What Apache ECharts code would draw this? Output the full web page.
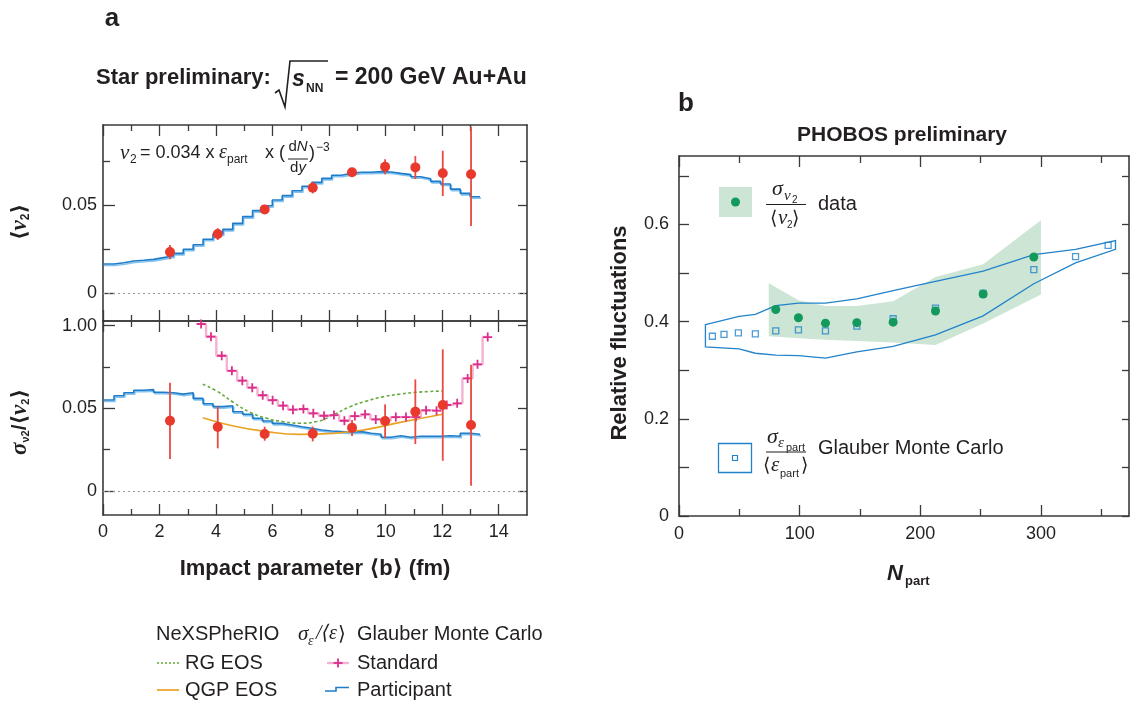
<!DOCTYPE html>
<html>
<head>
<meta charset="utf-8"/>
<title>v2 fluctuations</title>
<style>html,body{margin:0;padding:0;background:#fff;}#chart{width:1134px;height:702px;}</style>
</head>
<body>
<div id="chart"></div>
<script src="https://cdn.jsdelivr.net/npm/echarts@6/dist/echarts.min.js"></script>
<script>
// ---------- panel a : STAR, versus impact parameter b (fm)
var bPoints = [2.37, 4.06, 5.72, 7.42, 8.81, 9.98, 11.05, 12.02, 13.02];
var v2Mean = [0.0234, 0.0336, 0.0475, 0.0598, 0.0685, 0.0717, 0.0713, 0.068, 0.0674];
var v2Lo   = [0.0193, 0.0302, 0.0462, 0.0566, 0.067, 0.0674, 0.0647, 0.0551, 0.0381];
var v2Hi   = [0.0273, 0.0368, 0.0487, 0.0632, 0.0698, 0.0759, 0.0777, 0.0807, 0.0943];
var fluct   = [0.0425, 0.0387, 0.0345, 0.0347, 0.0383, 0.0423, 0.048, 0.052, 0.0399];
var fluctLo = [0.0193, 0.0258, 0.0304, 0.0300, 0.0333, 0.0319, 0.0284, 0.0183, 0.0032];
var fluctHi = [0.0655, 0.051, 0.0389, 0.039, 0.0429, 0.0524, 0.0675, 0.0857, 0.0762];

// Glauber "participant" histogram (bin edges, then one value per bin)
var binEdges = [0, 0.39, 0.74, 1.09, 1.44, 1.79, 2.14, 2.49, 2.84, 3.19, 3.54, 3.89, 4.24, 4.59, 4.94, 5.29,
  5.64, 5.99, 6.34, 6.69, 7.04, 7.39, 7.74, 8.09, 8.44, 8.79, 9.14, 9.49, 9.84, 10.19, 10.54, 10.89,
  11.24, 11.59, 11.94, 12.29, 12.64, 12.99, 13.34];
var partV2 = [0.0166, 0.0173, 0.0183, 0.0187, 0.0192, 0.0202, 0.0211, 0.0226, 0.0249, 0.0275,
  0.0306, 0.0336, 0.0362, 0.0396, 0.0434, 0.0468, 0.0496, 0.0528, 0.0553, 0.0581,
  0.0606, 0.0628, 0.0651, 0.0668, 0.0679, 0.0685, 0.0685, 0.0689, 0.0687, 0.0679,
  0.0672, 0.066, 0.0649, 0.0634, 0.0619, 0.059, 0.0566, 0.0547];
var partFluct = [0.055, 0.0576, 0.0594, 0.0609, 0.0613, 0.0597, 0.0594, 0.0586, 0.0594, 0.056,
  0.0528, 0.051, 0.0516, 0.0479, 0.0464, 0.044, 0.0423, 0.0409, 0.0399, 0.0389,
  0.038, 0.0369, 0.0363, 0.0359, 0.0355, 0.0359, 0.0349, 0.0343, 0.0325, 0.0334,
  0.0325, 0.0331, 0.0331, 0.0331, 0.0334, 0.0331, 0.0349, 0.0343];

// Glauber "standard"
var stdB = [3.47, 3.82, 4.20, 4.56, 4.93, 5.28, 5.65, 6.00, 6.37, 6.72, 7.09, 7.44, 7.82, 8.17, 8.54,
  8.91, 9.27, 9.65, 10.00, 10.36, 10.72, 11.07, 11.43, 11.80, 12.16, 12.53, 12.90, 13.25, 13.61];
var stdFluct = [0.101, 0.0933, 0.0818, 0.0727, 0.0667, 0.0625, 0.0579, 0.0549, 0.0516, 0.0492, 0.0496,
  0.047, 0.0455, 0.0459, 0.0425, 0.0453, 0.0464, 0.0433, 0.0427, 0.0447, 0.0447, 0.0447,
  0.0488, 0.0486, 0.052, 0.053, 0.0681, 0.0766, 0.0931];

// NeXSPheRIO
var rgB = [3.53, 4.02, 4.61, 5.20, 5.79, 6.38, 6.97, 7.56, 8.15, 8.74, 9.33, 9.92, 10.51, 11.10, 12.02];
var rgFluct = [0.0645, 0.0605, 0.0536, 0.0476, 0.044, 0.0419, 0.041, 0.042, 0.046, 0.051, 0.0544, 0.057, 0.0586, 0.0597, 0.0605];
var qgpB = [3.53, 4.61, 5.79, 6.97, 8.15, 9.33, 10.51, 12.02];
var qgpFluct = [0.0443, 0.0393, 0.0359, 0.0343, 0.0349, 0.0373, 0.0415, 0.0464];

// ---------- panel b : PHOBOS, versus Npart
var nPart = [80.2, 99, 121.4, 147.4, 177.5, 212.6, 252.1, 294.1];
var phobos = [0.425, 0.408, 0.397, 0.398, 0.399, 0.422, 0.457, 0.533];
var bandN = [74.4, 99, 121.4, 147.4, 177.5, 212.6, 252.1, 300];
var bandLo = [0.370, 0.366, 0.363, 0.360, 0.357, 0.352, 0.396, 0.456];
var bandHi = [0.479, 0.444, 0.432, 0.432, 0.442, 0.492, 0.518, 0.609];
var glauberN = [27.7, 37.3, 49.2, 63.3, 80.2, 99, 121.4, 147.4, 177.5, 212.6, 252.1, 294.1, 328.7, 355.7];
var glauber = [0.370, 0.374, 0.377, 0.375, 0.381, 0.383, 0.381, 0.391, 0.406, 0.428, 0.458, 0.507, 0.534, 0.557];
var outlineN = [21.9, 49.8, 63.3, 80.2, 99, 121.4, 147.4, 177.5, 212.6, 252.1, 294.1, 328.7, 361.8];
var outlineLo = [0.348, 0.344, 0.335, 0.331, 0.330, 0.325, 0.338, 0.349, 0.373, 0.412, 0.478, 0.521, 0.549];
var outlineHi = [0.394, 0.411, 0.415, 0.433, 0.438, 0.438, 0.447, 0.464, 0.483, 0.504, 0.538, 0.549, 0.567];

// ---------- ticks
var bMajor = [0, 2, 4, 6, 8, 10, 12, 14];
var bMinor = [1, 3, 5, 7, 9, 11, 13];
var v2Major = [0, 0.05];
var v2Text = ['0', '0.05'];
var fluctMajor = [0, 0.05, 0.1];
var fluctText = ['0', '0.05', '1.00'];
var aYMinor = [0.025, 0.075];
var nMajor = [0, 100, 200, 300];
var nMinor = [50, 150, 250, 350];
var relMajor = [0, 0.2, 0.4, 0.6];
var relMinor = [0.1, 0.3, 0.5, 0.7];

var FONT = '"Liberation Sans", "DejaVu Sans", Arial, sans-serif';
var SERIF = '"Liberation Serif", "DejaVu Serif", serif';
var INK = '#231f20';
var FRAME = '#3a3a3a';
var BLUE = '#1e7cc8';
var RED = '#e8392c';

var xAxes = [], yAxes = [];

// one side of a box: a major axis (line, long ticks, maybe labels) and a minor one (short ticks only)
function side(list, grid, pos, min, max, major, minor, majLen, minLen, labelVals, fmt, margin) {
	var idx = list.length;
	list.push({
		gridIndex: grid, type: 'value', position: pos, min: min, max: max,
		axisLine: {show: true, onZero: false, lineStyle: {color: FRAME, width: 1.6}},
		axisTick: {show: true, inside: true, length: majLen, customValues: major, lineStyle: {color: FRAME, width: 1.3}},
		axisLabel: labelVals ? {show: true, customValues: labelVals, formatter: fmt, margin: margin,
			fontSize: 18, color: INK, fontFamily: FONT} : {show: false},
		splitLine: {show: false}
	});
	list.push({
		gridIndex: grid, type: 'value', position: pos, min: min, max: max,
		axisLine: {show: false, onZero: false},
		axisTick: {show: true, inside: true, length: minLen, customValues: minor, lineStyle: {color: FRAME, width: 1.3}},
		axisLabel: {show: false},
		splitLine: {show: false}
	});
	return idx;
}

function lookup(vals, texts) {
	return function (v) {
		for (var i = 0; i < vals.length; i++) {
			if (Math.abs(vals[i] - v) < 1e-9) return texts[i];
		}
		return '';
	};
}

// grid 0: <v2>, grid 1: sigma/<v2>, grid 2: PHOBOS
var x0 = side(xAxes, 0, 'bottom', 0, 15, bMajor, bMinor, 11, 6);
side(xAxes, 0, 'top', 0, 15, bMajor, bMinor, 11, 6);
var y0 = side(yAxes, 0, 'left', -0.0157, 0.0953, v2Major, aYMinor, 12, 7, v2Major, lookup(v2Major, v2Text), 6);
side(yAxes, 0, 'right', -0.0157, 0.0953, v2Major, aYMinor, 9, 7);

var x1 = side(xAxes, 1, 'bottom', 0, 15, bMajor, bMinor, 11, 6, bMajor, function (v) { return String(v); }, 8);
side(xAxes, 1, 'top', 0, 15, bMajor, bMinor, 11, 6);
var y1 = side(yAxes, 1, 'left', -0.0145, 0.1028, fluctMajor, aYMinor, 12, 7, fluctMajor, lookup(fluctMajor, fluctText), 6);
side(yAxes, 1, 'right', -0.0145, 0.1028, fluctMajor, aYMinor, 9, 7);

var x2 = side(xAxes, 2, 'bottom', 0, 373, nMajor, nMinor, 11, 7, nMajor, function (v) { return String(v); }, 9);
side(xAxes, 2, 'top', 0, 373, nMajor, nMinor, 11, 7);
var y2 = side(yAxes, 2, 'left', 0, 0.741, relMajor, relMinor, 10, 10, relMajor,
	function (v) { return v === 0 ? '0' : v.toFixed(1); }, 10);
side(yAxes, 2, 'right', 0, 0.741, relMajor, relMinor, 7, 7);

function stepData(edges, vals) {
	var d = [];
	for (var i = 0; i < vals.length; i++) d.push([edges[i], vals[i]]);
	d.push([edges[vals.length], vals[vals.length - 1]]);
	return d;
}
function pairs(xs, ys) {
	return xs.map(function (x, i) { return [x, ys[i]]; });
}
function triples(xs, lo, hi) {
	return xs.map(function (x, i) { return [x, lo[i], hi[i]]; });
}

function errRender(params, api) {
	var a = api.coord([api.value(0), api.value(1)]);
	var b = api.coord([api.value(0), api.value(2)]);
	return {type: 'line', shape: {x1: a[0], y1: a[1], x2: b[0], y2: b[1]},
		style: {stroke: '#e9493e', lineWidth: 1.8}};
}

// closed polygon from an upper and a lower edge
function bandRender(xs, lo, hi, style) {
	return function (params, api) {
		if (params.dataIndex !== 0) return null;
		var pts = [];
		for (var i = 0; i < xs.length; i++) pts.push(api.coord([xs[i], hi[i]]));
		for (var j = xs.length - 1; j >= 0; j--) pts.push(api.coord([xs[j], lo[j]]));
		return {type: 'polygon', shape: {points: pts}, style: style};
	};
}

var zeroLine = {
	silent: true, symbol: 'none', label: {show: false},
	lineStyle: {type: [2, 3], color: '#9a9a9a', width: 1},
	data: [{yAxis: 0}]
};
var blueLine = {color: BLUE, width: 1.6, shadowColor: 'rgba(90,175,235,0.75)', shadowOffsetY: 1.5, shadowOffsetX: 1, shadowBlur: 0};
var plus = 'path://M-1,-5 L1,-5 L1,-1 L5,-1 L5,1 L1,1 L1,5 L-1,5 L-1,1 L-5,1 L-5,-1 L-1,-1 Z';

var series = [
	// <v2>
	{type: 'line', xAxisIndex: x0, yAxisIndex: y0, step: 'end', showSymbol: false, silent: true,
		data: stepData(binEdges, partV2), lineStyle: blueLine, markLine: zeroLine},
	{type: 'custom', xAxisIndex: x0, yAxisIndex: y0, renderItem: errRender,
		encode: {x: 0, y: [1, 2]}, data: triples(bPoints, v2Lo, v2Hi), z: 4},
	{type: 'scatter', xAxisIndex: x0, yAxisIndex: y0, symbolSize: 10, data: pairs(bPoints, v2Mean),
		itemStyle: {color: RED, opacity: 1}, z: 5},

	// sigma / <v2>
	{type: 'line', xAxisIndex: x1, yAxisIndex: y1, step: 'end', showSymbol: false, silent: true,
		data: stepData(binEdges, partFluct), lineStyle: blueLine, markLine: zeroLine},
	{type: 'line', xAxisIndex: x1, yAxisIndex: y1, smooth: true, showSymbol: false, silent: true,
		data: pairs(rgB, rgFluct), lineStyle: {color: '#62a83a', width: 1.6, type: [3, 2.5]}},
	{type: 'line', xAxisIndex: x1, yAxisIndex: y1, smooth: true, showSymbol: false, silent: true,
		data: pairs(qgpB, qgpFluct), lineStyle: {color: '#eba224', width: 1.7}},
	{type: 'line', xAxisIndex: x1, yAxisIndex: y1, step: 'middle', silent: true,
		symbol: plus, symbolSize: 9, showAllSymbol: true, data: pairs(stdB, stdFluct),
		lineStyle: {color: '#f5b1d2', width: 2.4}, itemStyle: {color: '#dc2e8b'}},
	{type: 'custom', xAxisIndex: x1, yAxisIndex: y1, renderItem: errRender,
		encode: {x: 0, y: [1, 2]}, data: triples(bPoints, fluctLo, fluctHi), z: 4},
	{type: 'scatter', xAxisIndex: x1, yAxisIndex: y1, symbolSize: 10, data: pairs(bPoints, fluct),
		itemStyle: {color: RED, opacity: 1}, z: 5},

	// PHOBOS
	{type: 'custom', xAxisIndex: x2, yAxisIndex: y2, encode: {x: 0, y: [1, 2]},
		renderItem: bandRender(bandN, bandLo, bandHi, {fill: '#cce5d4', stroke: null}),
		data: triples(bandN, bandLo, bandHi), z: 1},
	{type: 'custom', xAxisIndex: x2, yAxisIndex: y2, encode: {x: 0, y: [1, 2]},
		renderItem: bandRender(outlineN, outlineLo, outlineHi, {fill: null, stroke: '#2282ca', lineWidth: 1.3}),
		data: triples(outlineN, outlineLo, outlineHi), z: 2},
	{type: 'scatter', xAxisIndex: x2, yAxisIndex: y2, symbol: 'rect', symbolSize: 6,
		data: pairs(glauberN, glauber), itemStyle: {color: 'rgba(0,0,0,0)', borderColor: '#2282ca', borderWidth: 1.3}, z: 3},
	{type: 'scatter', xAxisIndex: x2, yAxisIndex: y2, symbolSize: 9,
		data: pairs(nPart, phobos), itemStyle: {color: '#12995b', opacity: 1}, z: 4}
];

// ---------- text and hand drawn legend keys
function txt(x, y, s, size, o) {
	o = o || {};
	return {type: 'text', x: x, y: y, rotation: o.rot || 0, silent: true, z: 10,
		style: {text: s, fontSize: size, fontFamily: o.ff || FONT, fontWeight: o.fw || 'normal',
			fontStyle: o.fs || 'normal', fill: o.color || INK, align: o.align || 'left',
			verticalAlign: o.va || 'middle', rich: o.rich}};
}
function seg(x1, y1, x2, y2, color, w, dash) {
	return {type: 'line', silent: true, z: 10, shape: {x1: x1, y1: y1, x2: x2, y2: y2},
		style: {stroke: color, lineWidth: w, lineDash: dash || null}};
}
var it = {fs: 'italic', ff: SERIF};

var graphics = [
	// panel a
	txt(112, 19, 'a', 26, {fw: 'bold', align: 'center'}),
	txt(96, 78, 'Star preliminary:', 22, {fw: 'bold'}),
	{type: 'polyline', silent: true, shape: {points: [[275, 93], [279, 90], [285, 107], [290, 61], [328, 61]]},
		style: {stroke: INK, lineWidth: 1.6, fill: null}},
	txt(292, 80, 's', 23, {fw: 'bold', fs: 'italic'}),
	txt(306, 89, 'NN', 12, {fw: 'bold'}),
	txt(335, 78, '= 200 GeV Au+Au', 23, {fw: 'bold'}),

	txt(120, 153, 'ν', 21, it),
	txt(130, 160, '2', 12),
	txt(140, 153, '= 0.034 x', 18),
	txt(219, 153, 'ε', 20, it),
	txt(227, 160, 'part', 12),
	txt(265, 153, 'x (', 18),
	txt(298, 147, 'd{i|N}', 15, {align: 'center', rich: {i: {fontStyle: 'italic', fontSize: 15, fontFamily: FONT}}}),
	seg(288, 159, 308, 159, INK, 1),
	txt(298, 168, 'd{i|y}', 15, {align: 'center', rich: {i: {fontStyle: 'italic', fontSize: 15, fontFamily: FONT}}}),
	txt(309, 153, ')', 18),
	txt(316, 148, '−3', 12),

	txt(20, 222, '⟨{n|ν}{s|2}⟩', 21, {fw: 'bold', align: 'center', rot: Math.PI / 2,
		rich: {n: {fontFamily: SERIF, fontStyle: 'italic', fontWeight: 'bold', fontSize: 23},
			s: {fontSize: 12, fontWeight: 'bold', verticalAlign: 'bottom', padding: [9, 0, 0, 0]}}}),
	txt(20, 422, '{g|σ}{s|ν2}/⟨{n|ν}{s|2}⟩', 21, {fw: 'bold', align: 'center', rot: Math.PI / 2,
		rich: {g: {fontFamily: SERIF, fontStyle: 'italic', fontWeight: 'bold', fontSize: 23},
			n: {fontFamily: SERIF, fontStyle: 'italic', fontWeight: 'bold', fontSize: 23},
			s: {fontSize: 11, fontWeight: 'bold', verticalAlign: 'bottom', padding: [9, 0, 0, 0]}}}),
	txt(315, 569, 'Impact parameter ⟨b⟩ (fm)', 22, {fw: 'bold', align: 'center'}),

	// panel a legend
	txt(156, 634, 'NeXSPheRIO', 20),
	txt(298, 634, 'σ', 21, it),
	txt(308, 641, 'ε', 14, it),
	txt(316, 634, '/⟨', 20, it),
	txt(329, 634, 'ε', 20, it),
	txt(338, 634, '⟩', 20),
	txt(357, 634, 'Glauber Monte Carlo', 20),
	seg(157, 663, 179, 663, '#62a83a', 1.6, [2, 2]),
	txt(185, 663, 'RG EOS', 20),
	seg(157, 690, 179, 690, '#eba224', 1.7),
	txt(185, 690, 'QGP EOS', 20),
	seg(327, 663, 349, 663, '#f5b1d2', 2.4),
	seg(333.5, 663, 342.5, 663, '#dc2e8b', 1.8),
	seg(338, 658.5, 338, 667.5, '#dc2e8b', 1.8),
	txt(357, 663, 'Standard', 20),
	{type: 'polyline', silent: true, shape: {points: [[325, 691], [336, 691], [336, 687.5], [349, 687.5]]},
		style: {stroke: BLUE, lineWidth: 1.6, fill: null}},
	txt(357, 690, 'Participant', 20),

	// panel b
	txt(686, 104, 'b', 26, {fw: 'bold', align: 'center'}),
	txt(902, 135, 'PHOBOS preliminary', 21, {fw: 'bold', align: 'center'}),
	txt(620, 333, 'Relative fluctuations', 22, {fw: 'bold', align: 'center', rot: Math.PI / 2}),
	txt(895, 574, 'N', 22, {fw: 'bold', fs: 'italic', align: 'center'}),
	txt(905, 581, 'part', 13, {fw: 'bold'}),

	{type: 'rect', silent: true, shape: {x: 719, y: 187, width: 33, height: 30}, style: {fill: '#cce5d4'}},
	{type: 'circle', silent: true, shape: {cx: 735.5, cy: 202, r: 4.5}, style: {fill: '#12995b'}},
	txt(772, 189, 'σ', 22, it),
	txt(784, 196, 'ν', 15, it),
	txt(792, 200, '2', 10),
	seg(766, 204.5, 806, 204.5, INK, 1),
	txt(770, 219, '⟨', 19),
	txt(778, 218, 'ν', 21, it),
	txt(787, 225, '2', 10),
	txt(792, 219, '⟩', 19),
	txt(818, 204, 'data', 20),

	{type: 'rect', silent: true, shape: {x: 718.5, y: 443.5, width: 33, height: 29}, style: {fill: null, stroke: '#2282ca', lineWidth: 1.3}},
	{type: 'rect', silent: true, shape: {x: 732.5, y: 455.5, width: 5, height: 5}, style: {fill: null, stroke: '#2282ca', lineWidth: 1.2}},
	txt(767, 437, 'σ', 22, it),
	txt(778, 443, 'ε', 15, it),
	txt(786, 448, 'part', 11),
	seg(766, 452, 806, 452, INK, 1),
	txt(763, 466, '⟨', 19),
	txt(771, 465, 'ε', 21, it),
	txt(780, 474, 'part', 11),
	txt(801, 466, '⟩', 19),
	txt(818, 448, 'Glauber Monte Carlo', 20)
];

var myChart = echarts.init(document.getElementById('chart'));
myChart.setOption({
	animation: false,
	backgroundColor: '#fff',
	grid: [
		{left: 103, top: 125, width: 424, height: 196},
		{left: 103, top: 321, width: 424, height: 194},
		{left: 679, top: 156, width: 450, height: 360}
	],
	xAxis: xAxes,
	yAxis: yAxes,
	series: series,
	graphic: {elements: graphics}
});
</script>
</body>
</html>
